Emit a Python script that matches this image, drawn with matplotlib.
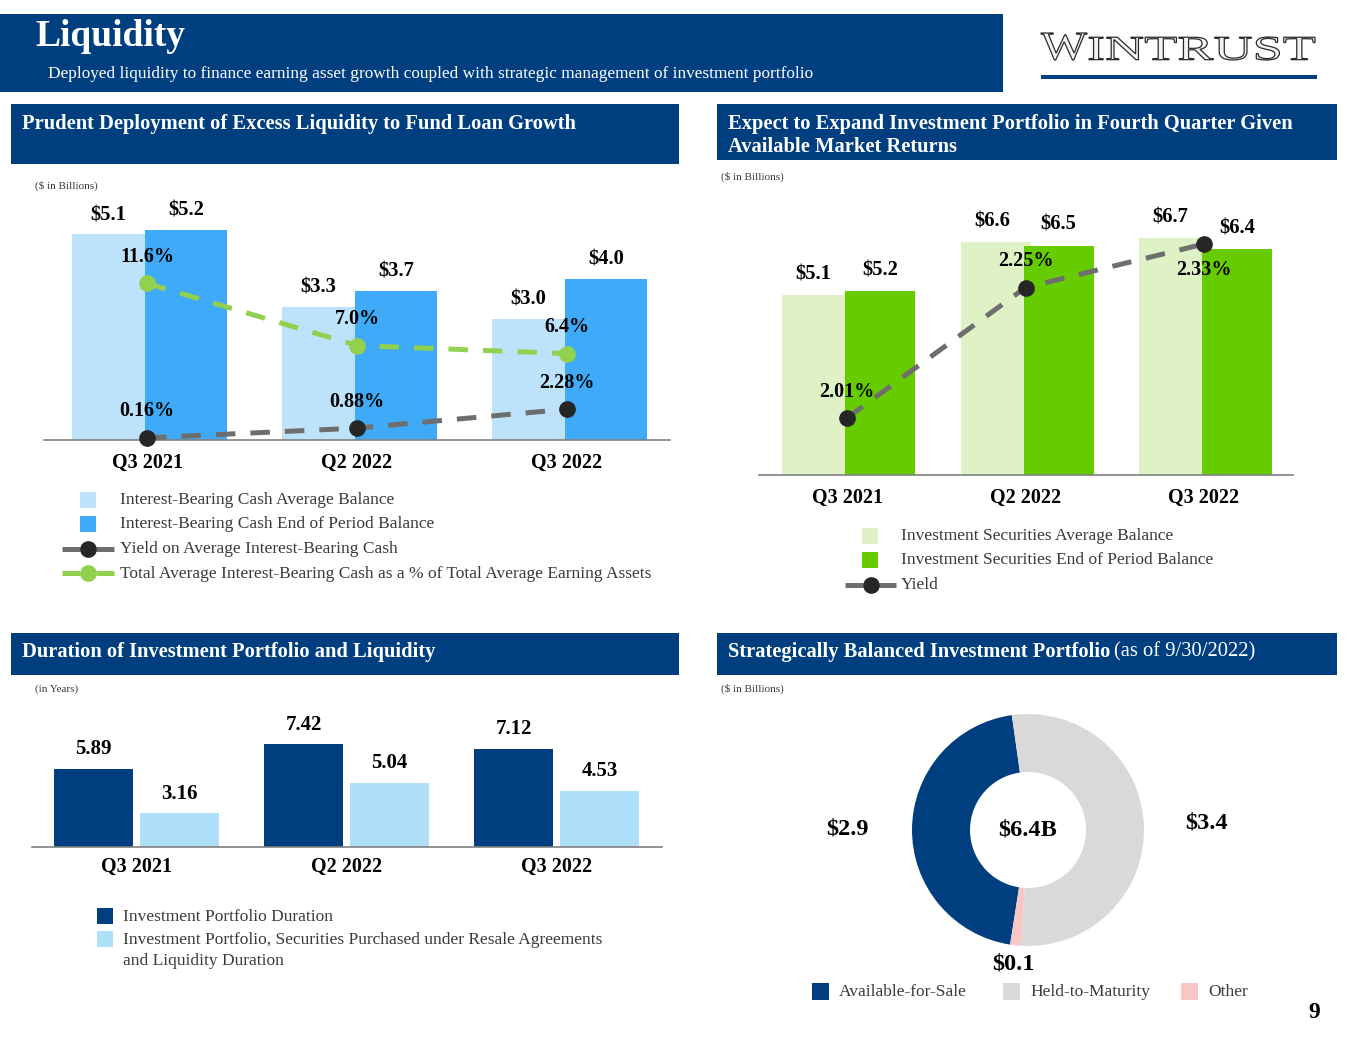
import matplotlib
matplotlib.use('Agg')
import matplotlib.pyplot as plt
from matplotlib.patches import Rectangle, PathPatch
from matplotlib.textpath import TextPath
from matplotlib.font_manager import FontProperties
from matplotlib.transforms import Affine2D
import numpy as np

plt.rcParams['font.family'] = ['Liberation Serif', 'DejaVu Serif']

# --- Data ---
quarters = ['Q3 2021', 'Q2 2022', 'Q3 2022']

cash_avg = [5.1, 3.3, 3.0]          # $B
cash_eop = [5.2, 3.7, 4.0]          # $B
cash_yield = [0.16, 0.88, 2.28]     # %
cash_pct_assets = [11.6, 7.0, 6.4]  # %

sec_avg = [5.1, 6.6, 6.7]
sec_eop = [5.2, 6.5, 6.4]
sec_yield = [2.01, 2.25, 2.33]

port_duration = [5.89, 7.42, 7.12]
liq_duration = [3.16, 5.04, 4.53]

mix_labels = ['Available-for-Sale', 'Held-to-Maturity', 'Other']
mix_values = [2.9, 3.4, 0.1]
mix_total = '$6.4B'

# --- Colors ---
NAVY = '#003f7f'
LIGHT_BLUE = '#bde3fc'
BLUE = '#3faaf7'
PALE_GREEN = '#dff2c6'
GREEN = '#66cc00'
LINE_GREEN = '#92d050'
LINE_GRAY = '#6e6e6e'
DOT = '#262626'
SKY = '#aee0fa'
DONUT_GRAY = '#d9d9d9'
PINK = '#f9c6c6'
TXT = '#3a3a3a'

HEAD_FS = 14.8
LEG_FS = 12.5
VAL_FS = 14.8

W, H = 1365, 1055
fig = plt.figure(figsize=(W / 100, H / 100), dpi=100)
fig.patch.set_facecolor('white')

# overlay in pixel coordinates for boxes, texts and legends
ov = fig.add_axes([0, 0, 1, 1])
ov.set_xlim(0, W)
ov.set_ylim(H, 0)
ov.axis('off')


def px_axes(x0, y0, x1, y1):
    ax = fig.add_axes([x0 / W, 1 - y1 / H, (x1 - x0) / W, (y1 - y0) / H])
    ax.set_facecolor('none')
    return ax


def style_bar_axes(ax, pad):
    for s in ['top', 'right', 'left']:
        ax.spines[s].set_visible(False)
    ax.spines['bottom'].set_color('#808080')
    ax.spines['bottom'].set_linewidth(1.2)
    ax.set_yticks([])
    ax.set_xticks(np.arange(len(quarters)))
    ax.set_xticklabels(quarters, fontsize=14.5, fontweight='bold')
    ax.tick_params(axis='x', length=0, pad=pad)


def clean_twin(ax):
    for s in ax.spines.values():
        s.set_visible(False)
    ax.set_yticks([])


def square(x, y, c, s=16):
    ov.add_patch(Rectangle((x, y), s, s, color=c, lw=0))


def line_key(x0, x1, y, c, mc):
    xm = (x0 + x1) / 2
    ov.plot([x0, xm - 8], [y, y], color=c, lw=3.6, solid_capstyle='butt')
    ov.plot([xm + 8, x1], [y, y], color=c, lw=3.6, solid_capstyle='butt')
    ov.plot([xm], [y], 'o', color=mc, ms=11)


def fitted_word(s, x0, y0, x1, y1):
    # outlined lettering stretched to fit a pixel box
    tp = TextPath((0, 0), s, size=1, prop=FontProperties(family='Liberation Serif'))
    ext = tp.get_extents()
    tr = (Affine2D().translate(-ext.x0, -ext.y0)
          .scale((x1 - x0) / ext.width, -(y1 - y0) / ext.height)
          .translate(x0, y1))
    ov.add_patch(PathPatch(tp, transform=tr + ov.transData, facecolor='#f4f4f4',
                           edgecolor='#2a2a2a', lw=0.9))


# --- Header ---
ov.add_patch(Rectangle((0, 14), 1003, 78, color=NAVY, lw=0))
ov.text(35, 36, 'Liquidity', color='white', fontsize=27, fontweight='bold', va='center')
ov.text(48, 74, 'Deployed liquidity to finance earning asset growth coupled with strategic '
        'management of investment portfolio', color='white', fontsize=12.4, va='center')

fitted_word('W', 1041, 33, 1087, 60)
fitted_word('INTRUST', 1089, 37, 1315, 60)
ov.add_patch(Rectangle((1041, 75), 276, 3.5, color=NAVY, lw=0))

# --- Section header boxes ---
ov.add_patch(Rectangle((11, 104), 668, 60, color=NAVY, lw=0))
ov.text(22, 124, 'Prudent Deployment of Excess Liquidity to Fund Loan Growth',
        color='white', fontsize=HEAD_FS, fontweight='bold', va='center')
ov.add_patch(Rectangle((717, 104), 620, 56, color=NAVY, lw=0))
ov.text(728, 124, 'Expect to Expand Investment Portfolio in Fourth Quarter Given',
        color='white', fontsize=HEAD_FS, fontweight='bold', va='center')
ov.text(728, 147, 'Available Market Returns',
        color='white', fontsize=HEAD_FS, fontweight='bold', va='center')
ov.add_patch(Rectangle((11, 633), 668, 42, color=NAVY, lw=0))
ov.text(22, 652, 'Duration of Investment Portfolio and Liquidity',
        color='white', fontsize=HEAD_FS, fontweight='bold', va='center')
ov.add_patch(Rectangle((717, 633), 620, 42, color=NAVY, lw=0))
t_bold = ov.text(728, 652, 'Strategically Balanced Investment Portfolio',
                 color='white', fontsize=HEAD_FS, fontweight='bold', va='center')

ov.text(35, 186, '($ in Billions)', fontsize=8, color=TXT, va='center')
ov.text(721, 177, '($ in Billions)', fontsize=8, color=TXT, va='center')
ov.text(35, 689, '(in Years)', fontsize=8, color=TXT, va='center')
ov.text(721, 689, '($ in Billions)', fontsize=8, color=TXT, va='center')

x = np.arange(len(quarters))

# --- Chart 1: interest-bearing cash ---
sp1 = 210.0
lo1, dk1, bw1 = -75 / sp1, -2 / sp1, 82 / sp1
ax1 = px_axes(44, 190, 670, 440)
ax1.bar(x + lo1, cash_avg, width=bw1, align='edge', color=LIGHT_BLUE, zorder=1)
ax1.bar(x + dk1, cash_eop, width=bw1, align='edge', color=BLUE, zorder=2)
ax1.set_xlim(-(147 - 44) / sp1, 2 + (670 - 567) / sp1)
ax1.set_ylim(0, 250 / 40.3)
style_bar_axes(ax1, 9)
for xi, v in zip(x, cash_avg):
    ax1.annotate(f'${v:.1f}', (xi + (lo1 + dk1) / 2, v), xytext=(0, 14), textcoords='offset points',
                 ha='center', va='center', fontsize=VAL_FS, fontweight='bold')
for xi, v in zip(x, cash_eop):
    ax1.annotate(f'${v:.1f}', (xi + dk1 + bw1 / 2, v), xytext=(0, 14), textcoords='offset points',
                 ha='center', va='center', fontsize=VAL_FS, fontweight='bold')

ax1b = ax1.twinx()
clean_twin(ax1b)
ax1b.set_ylim(0, 250 / 13.5)
ax1b.plot(x, cash_pct_assets, color=LINE_GREEN, lw=3.6, dashes=(3.9, 3.0), marker='o', ms=11,
          mfc=LINE_GREEN, mec=LINE_GREEN, clip_on=False, zorder=3)
ax1b.plot(x, cash_yield, color=LINE_GRAY, lw=3.6, dashes=(3.9, 3.0), marker='o', ms=11,
          mfc=DOT, mec=DOT, clip_on=False, zorder=3)
for xi, v in zip(x, cash_pct_assets):
    ax1b.annotate(f'{v:.1f}%', (xi, v), xytext=(0, 19), textcoords='offset points',
                  ha='center', va='center', fontsize=14.5, fontweight='bold')
for xi, v in zip(x, cash_yield):
    ax1b.annotate(f'{v:.2f}%', (xi, v), xytext=(0, 19), textcoords='offset points',
                  ha='center', va='center', fontsize=14.5, fontweight='bold')

square(80, 492, LIGHT_BLUE)
square(80, 516, BLUE)
line_key(62, 114, 549, LINE_GRAY, DOT)
line_key(62, 114, 573, LINE_GREEN, LINE_GREEN)
leg1 = ['Interest-Bearing Cash Average Balance', 'Interest-Bearing Cash End of Period Balance',
        'Yield on Average Interest-Bearing Cash',
        'Total Average Interest-Bearing Cash as a % of Total Average Earning Assets']
for i, t in enumerate(leg1):
    ov.text(120, 500 + 24.5 * i, t, fontsize=LEG_FS, color=TXT, va='center')

# --- Chart 2: investment securities ---
sp2 = 178.5
lo2, dk2, bw2 = -65 / sp2, -2 / sp2, 70 / sp2
ax2 = px_axes(759, 200, 1293, 475)
ax2.bar(x + lo2, sec_avg, width=bw2, align='edge', color=PALE_GREEN, zorder=1)
ax2.bar(x + dk2, sec_eop, width=bw2, align='edge', color=GREEN, zorder=2)
ax2.set_xlim(-(847 - 759) / sp2, 2 + (1293 - 1204) / sp2)
ax2.set_ylim(0, 275 / 35.3)
style_bar_axes(ax2, 9)
for xi, v in zip(x, sec_avg):
    ax2.annotate(f'${v:.1f}', (xi + (lo2 + dk2) / 2, v), xytext=(0, 15), textcoords='offset points',
                 ha='center', va='center', fontsize=VAL_FS, fontweight='bold')
for xi, v in zip(x, sec_eop):
    ax2.annotate(f'${v:.1f}', (xi + dk2 + bw2 / 2, v), xytext=(0, 15), textcoords='offset points',
                 ha='center', va='center', fontsize=VAL_FS, fontweight='bold')

ax2b = ax2.twinx()
clean_twin(ax2b)
ax2b.set_ylim(1.905, 2.411)
ax2b.plot(x, sec_yield, color=LINE_GRAY, lw=3.6, dashes=(3.9, 3.0), marker='o', ms=11,
          mfc=DOT, mec=DOT, clip_on=False, zorder=3)
for i, (xi, v) in enumerate(zip(x, sec_yield)):
    dy = -19 if i == 2 else 19
    ax2b.annotate(f'{v:.2f}%', (xi, v), xytext=(0, dy), textcoords='offset points',
                  ha='center', va='center', fontsize=14.5, fontweight='bold')

square(862, 528, PALE_GREEN)
square(862, 552, GREEN)
line_key(845, 896, 585, LINE_GRAY, DOT)
leg2 = ['Investment Securities Average Balance', 'Investment Securities End of Period Balance', 'Yield']
for i, t in enumerate(leg2):
    ov.text(901, 536 + 24.5 * i, t, fontsize=LEG_FS, color=TXT, va='center')

# --- Chart 3: duration ---
sp3 = 210.0
dk3, lt3, bw3 = -82.5 / sp3, 3.5 / sp3, 79 / sp3
ax3 = px_axes(32, 700, 662, 847)
ax3.bar(x + dk3, port_duration, width=bw3, align='edge', color=NAVY, zorder=2)
ax3.bar(x + lt3, liq_duration, width=bw3, align='edge', color=SKY, zorder=2)
ax3.set_xlim(-(136.5 - 32) / sp3, 2 + (662 - 556.5) / sp3)
ax3.set_ylim(1.06, 1.06 + 147 / 16.2)
style_bar_axes(ax3, 7)
for xi, v in zip(x, port_duration):
    ax3.annotate(f'{v:.2f}', (xi + dk3 + bw3 / 2, v), xytext=(0, 14), textcoords='offset points',
                 ha='center', va='center', fontsize=15, fontweight='bold')
for xi, v in zip(x, liq_duration):
    ax3.annotate(f'{v:.2f}', (xi + lt3 + bw3 / 2, v), xytext=(0, 14), textcoords='offset points',
                 ha='center', va='center', fontsize=15, fontweight='bold')

square(97, 908, NAVY)
square(97, 931, SKY)
ov.text(123, 917, 'Investment Portfolio Duration', fontsize=LEG_FS, color=TXT, va='center')
ov.text(123, 940, 'Investment Portfolio, Securities Purchased under Resale Agreements',
        fontsize=LEG_FS, color=TXT, va='center')
ov.text(123, 961, 'and Liquidity Duration', fontsize=LEG_FS, color=TXT, va='center')

# --- Chart 4: portfolio mix donut ---
mix_colors = [NAVY, DONUT_GRAY, PINK]
order = [0, 2, 1]  # AFS, Other, HTM counter-clockwise from top
cx, cy, r = 1028, 830, 116
ax4 = px_axes(cx - r, cy - r, cx + r, cy + r)
wedges, _ = ax4.pie([mix_values[k] for k in order], colors=[mix_colors[k] for k in order],
                    startangle=98, counterclock=True, radius=1,
                    wedgeprops=dict(width=0.5, edgecolor='none'))
ax4.set_xlim(-1, 1)
ax4.set_ylim(-1, 1)
dists = [1.56, 1.16, 1.54]
for w, k, d in zip(wedges, order, dists):
    ang = np.deg2rad((w.theta1 + w.theta2) / 2)
    ax4.text(d * np.cos(ang), d * np.sin(ang), f'${mix_values[k]:.1f}', ha='center', va='center',
             fontsize=17.5, fontweight='bold', clip_on=False)
ax4.text(0, 0, mix_total, ha='center', va='center', fontsize=17.5, fontweight='bold')

for lx, c, t in zip([812, 1003, 1181], mix_colors, mix_labels):
    square(lx, 983, c, 17)
    ov.text(lx + 27, 992, t, fontsize=LEG_FS, color=TXT, va='center')

ov.text(1314, 1012, '9', fontsize=17, fontweight='bold', ha='center', va='center')

# regular-weight suffix after bold section header
fig.canvas.draw()
bb = t_bold.get_window_extent()
ov.text(bb.x1 + 4, 652, '(as of 9/30/2022)', color='white', fontsize=HEAD_FS, va='center')

fig.savefig('out.png', dpi=100, facecolor='white')
